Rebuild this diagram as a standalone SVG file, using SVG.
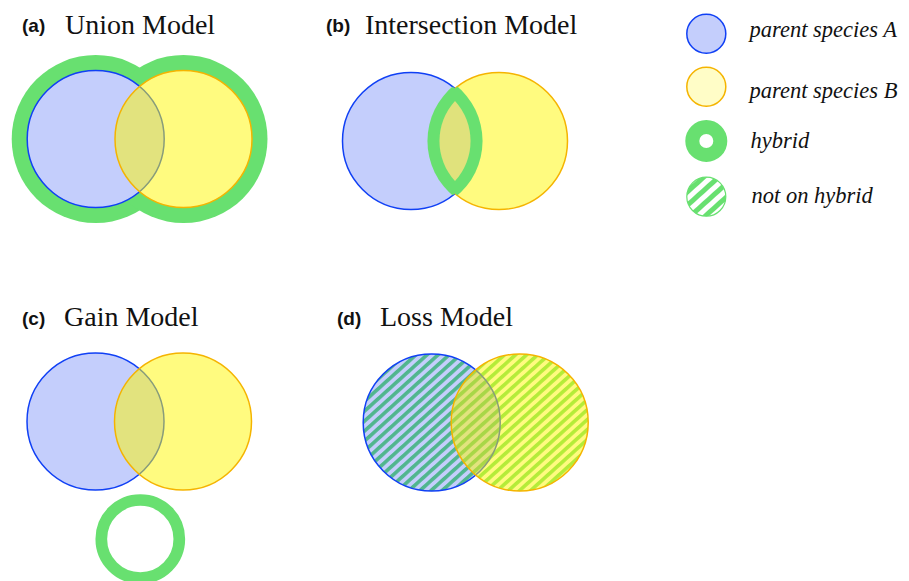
<svg xmlns="http://www.w3.org/2000/svg" width="909" height="581" viewBox="0 0 909 581">
  <style>
    .label { font-family: "Liberation Sans", Arial, sans-serif; font-weight: bold; font-size: 19px; fill: #111; }
    .title { font-family: "Liberation Serif", "Times New Roman", serif; font-size: 28px; fill: #111; }
    .legend { font-family: "Liberation Serif", "Times New Roman", serif; font-style: italic; font-size: 22.5px; fill: #111; }
    .sp-a { fill: #002df0; fill-opacity: 0.23; stroke: #1040f5; stroke-width: 1.5; }
    .sp-b { fill: #fff800; fill-opacity: 0.5; stroke: #f5b400; stroke-width: 1.5; }
    .under { fill: #ffffff; }
    .green { fill: #68e070; }
    .ring { fill: none; stroke: #68e070; }
  </style>
  <defs>
    <!-- diagonal green hatching for the loss panel -->
    <pattern id="hatch" patternUnits="userSpaceOnUse" width="7.4" height="7.4" patternTransform="rotate(48)">
      <rect width="7.4" height="7.4" fill="#ffffff"/>
      <rect width="3.6" height="7.4" fill="#68e070"/>
    </pattern>
    <!-- coarser hatching for the legend swatch -->
    <pattern id="hatch-legend" patternUnits="userSpaceOnUse" width="10" height="10" patternTransform="rotate(48)">
      <rect width="10" height="10" fill="#ffffff"/>
      <rect width="5" height="10" fill="#68e070"/>
    </pattern>
    <!-- union of the two parent circles of panel (b) -->
    <clipPath id="clip-b">
      <circle cx="411" cy="141" r="68.5"/>
      <circle cx="499" cy="141" r="68.5"/>
    </clipPath>
  </defs>

  <!-- (a) Union Model -->
  <g id="panel-a">
    <text class="label" x="22" y="32">(a)</text>
    <text class="title" x="65" y="34">Union Model</text>
    <circle class="green" cx="95.7" cy="139" r="84"/>
    <circle class="green" cx="183.5" cy="139" r="84"/>
    <circle class="under" cx="95.7" cy="139" r="68.5"/>
    <circle class="under" cx="183.5" cy="139" r="68.5"/>
    <circle class="sp-a" cx="95.7" cy="139" r="68.5"/>
    <circle class="sp-b" cx="183.5" cy="139" r="68.5"/>
  </g>

  <!-- (b) Intersection Model -->
  <g id="panel-b">
    <text class="label" x="326" y="32">(b)</text>
    <text class="title" x="365" y="34">Intersection Model</text>
    <circle class="sp-a" cx="411" cy="141" r="68.5"/>
    <circle class="sp-b" cx="499" cy="141" r="68.5"/>
    <!-- hybrid band along the lens of the two circles -->
    <path class="green" clip-path="url(#clip-b)" d="M455 84.6 A71.5 71.5 0 0 1 455 197.4 A71.5 71.5 0 0 1 455 84.6 Z"/>
    <path fill="#e0e27c" d="M455 100.9 A59.5 59.5 0 0 1 455 181.1 A59.5 59.5 0 0 1 455 100.9 Z"/>
  </g>

  <!-- (c) Gain Model -->
  <g id="panel-c">
    <text class="label" x="22" y="325">(c)</text>
    <text class="title" x="64" y="326">Gain Model</text>
    <circle class="sp-a" cx="95.5" cy="421.5" r="68.5"/>
    <circle class="sp-b" cx="183" cy="421.5" r="68.5"/>
    <circle class="ring" cx="140.3" cy="539" r="39" stroke-width="11.7"/>
  </g>

  <!-- (d) Loss Model -->
  <g id="panel-d">
    <text class="label" x="337" y="325">(d)</text>
    <text class="title" x="380" y="326">Loss Model</text>
    <circle fill="url(#hatch)" cx="431.7" cy="422.5" r="68.5"/>
    <circle fill="url(#hatch)" cx="519.7" cy="422.5" r="68.5"/>
    <circle class="sp-a" cx="431.7" cy="422.5" r="68.5"/>
    <circle class="sp-b" cx="519.7" cy="422.5" r="68.5"/>
  </g>

  <!-- legend -->
  <g id="legend-a">
    <circle class="sp-a" cx="706.3" cy="33.7" r="19.5"/>
    <text class="legend" x="749.5" y="37">parent species A</text>
  </g>
  <g id="legend-b">
    <circle cx="706.3" cy="86.7" r="19.5" fill="#fff800" fill-opacity="0.22" stroke="#f5b400" stroke-width="1.5"/>
    <text class="legend" x="749.5" y="98">parent species B</text>
  </g>
  <g id="legend-hybrid">
    <circle class="ring" cx="706.3" cy="141" r="14" stroke-width="14"/>
    <text class="legend" x="750.5" y="148">hybrid</text>
  </g>
  <g id="legend-not">
    <circle cx="706.3" cy="196.7" r="19.5" fill="url(#hatch-legend)" stroke="#68e070" stroke-width="1.2"/>
    <text class="legend" x="751.5" y="203">not on hybrid</text>
  </g>

  <!-- no connectors in this figure -->
  <g id="connectors"/>
</svg>
